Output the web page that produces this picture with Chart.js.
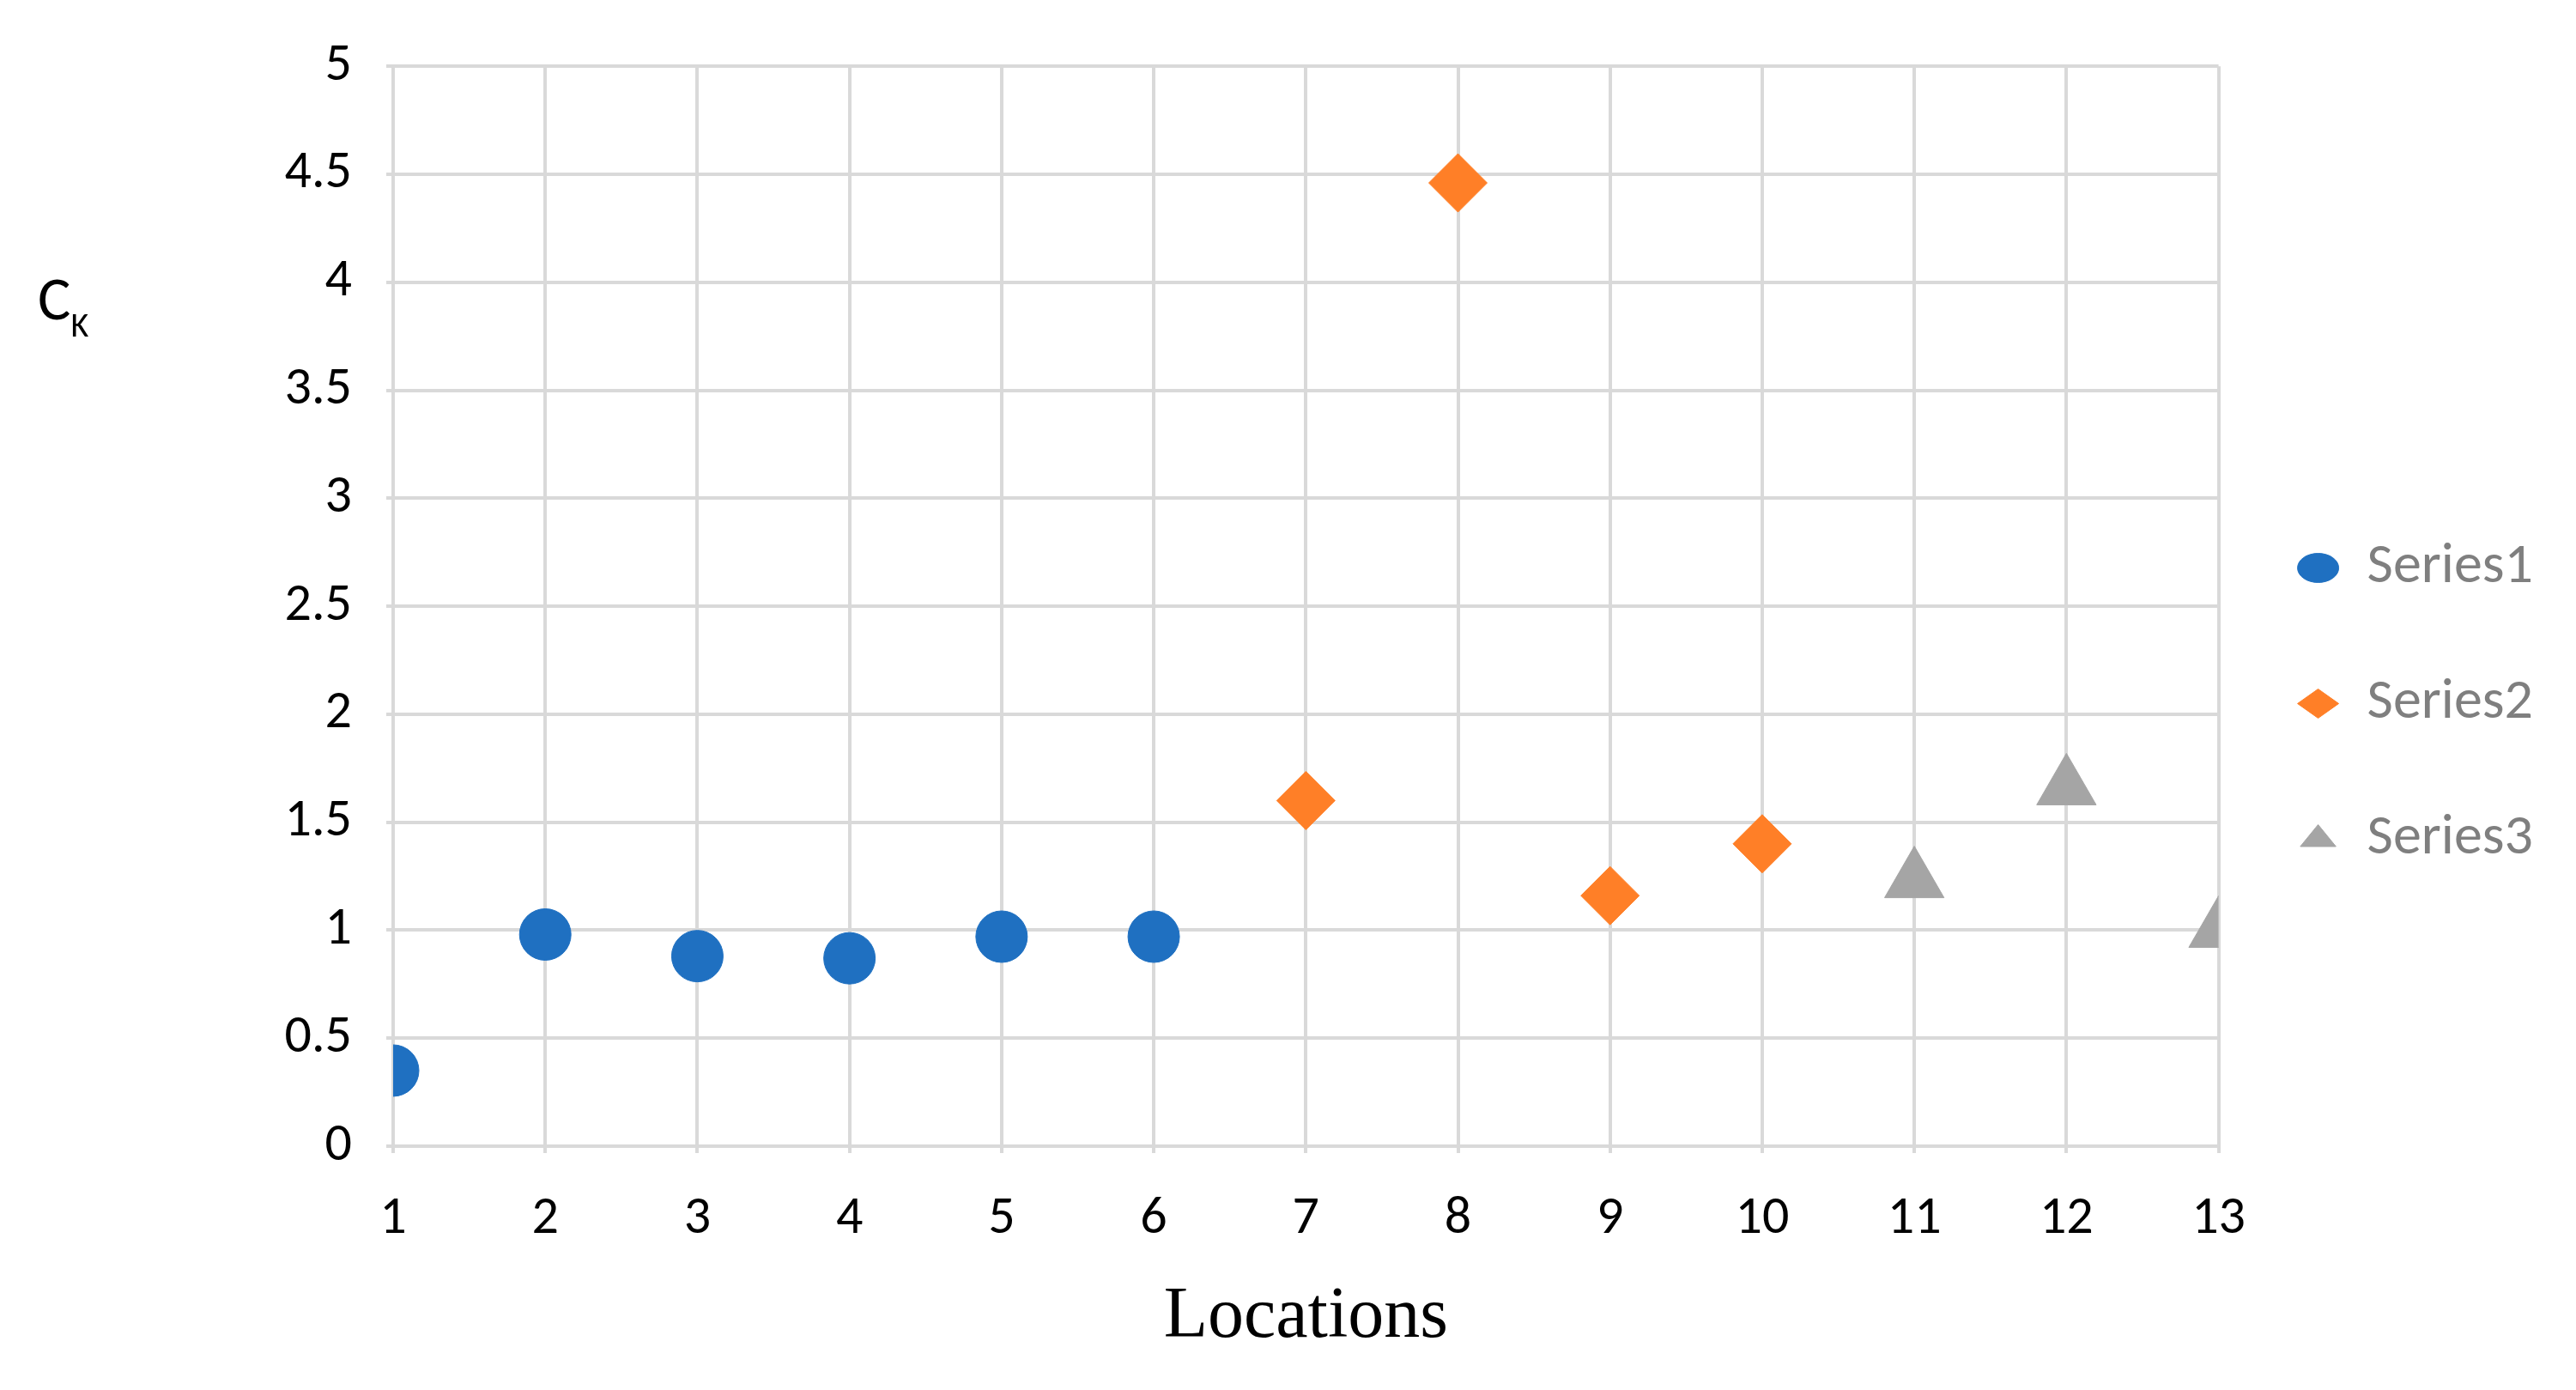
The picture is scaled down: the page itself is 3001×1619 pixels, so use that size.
<!DOCTYPE html>
<html>
<head>
<meta charset="utf-8">
<script src="https://cdn.jsdelivr.net/npm/chart.js@4"></script>
<style>
  html, body { margin: 0; padding: 0; background: #fff; }
  #wrap { width: 3001px; height: 1619px; }
</style>
</head>
<body>
<div id="wrap"><canvas id="chart"></canvas></div>
<script>
// data
const series1X = [1, 2, 3, 4, 5, 6];
const series1Y = [0.35, 0.98, 0.88, 0.87, 0.97, 0.97];
const series2X = [7, 8, 9, 10];
const series2Y = [1.60, 4.46, 1.16, 1.40];
const series3X = [11, 12, 13];
const series3Y = [1.23, 1.66, 1.00];
const seriesNames = ['Series1', 'Series2', 'Series3'];

const toPoints = (xs, ys) => xs.map((x, i) => ({ x: x, y: ys[i] }));
const sans = 'Calibri, Carlito, "Open Sans", sans-serif';

// draws the C_K label with its subscript
const yTitle = {
    id: 'yTitle',
    afterDraw(chart) {
        const ctx = chart.ctx;
        ctx.save();
        ctx.fillStyle = '#000';
        ctx.textBaseline = 'alphabetic';
        ctx.font = '72px ' + sans;
        ctx.fillText('C', 44, 372);
        const w = ctx.measureText('C').width;
        ctx.font = '40px ' + sans;
        ctx.fillText('K', 44 + w, 392);
        ctx.restore();
    }
};

const grid = { color: '#d9d9d9', lineWidth: 4 };
const tickFont = { family: sans, size: 62 };

new Chart(document.getElementById('chart'), {
    type: 'scatter',
    data: {
        datasets: [
            { label: seriesNames[0], data: toPoints(series1X, series1Y), pointStyle: 'circle',
              backgroundColor: '#1f70c1', borderColor: '#1f70c1', pointRadius: 30 },
            { label: seriesNames[1], data: toPoints(series2X, series2Y), pointStyle: 'rectRot',
              backgroundColor: '#ff7f27', borderColor: '#ff7f27', pointRadius: 34 },
            { label: seriesNames[2], data: toPoints(series3X, series3Y), pointStyle: 'triangle',
              backgroundColor: '#a5a5a5', borderColor: '#a5a5a5', pointRadius: 40 }
        ]
    },
    options: {
        responsive: true,
        maintainAspectRatio: false,
        animation: false,
        layout: { padding: { left: 0, right: 40, top: 50, bottom: 30 } },
        plugins: {
            tooltip: { enabled: false },
            legend: {
                position: 'right',
                labels: {
                    usePointStyle: true,
                    pointStyleWidth: 48,
                    boxHeight: 24,
                    padding: 92,
                    color: '#7f7f7f',
                    font: { family: sans, size: 66 }
                }
            }
        },
        scales: {
            x: {
                type: 'linear', min: 1, max: 13,
                ticks: { stepSize: 1, color: '#000', font: tickFont, padding: 40 },
                grid: grid, border: { color: '#d9d9d9', width: 4 },
                title: { display: true, text: 'Locations', color: '#000',
                         font: { family: '"Liberation Serif", "DejaVu Serif", serif', size: 84 },
                         padding: { top: 10 } },
                afterFit: s => { s.height = 1619 - 1335 - 30; }
            },
            y: {
                min: 0, max: 5,
                ticks: { stepSize: 0.5, color: '#000', font: tickFont, padding: 40,
                         callback: v => String(v) },
                grid: grid, border: { color: '#d9d9d9', width: 4 },
                afterFit: s => { s.width = 458; }
            }
        }
    },
    plugins: [yTitle]
});
</script>
</body>
</html>
